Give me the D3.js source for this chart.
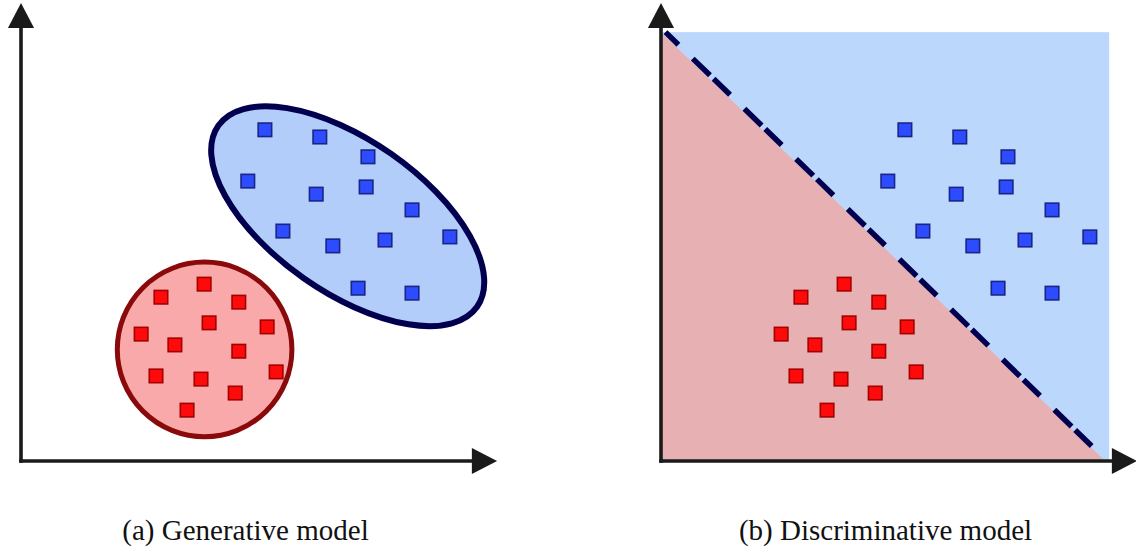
<!DOCTYPE html>
<html>
<head>
<meta charset="utf-8">
<script src="https://cdn.jsdelivr.net/npm/d3@7"></script>
<style>
  html, body { margin: 0; padding: 0; background: #fff; }
  svg { display: block; }
</style>
</head>
<body>
<svg id="chart" width="1136" height="554"></svg>
<script>
// Feature-space samples (both panels share the same data, units 0–100)
const classBlue = [
  [54.2, 73.6], [66.4, 72.0], [77.1, 67.6], [50.4, 62.2], [65.6, 59.3],
  [76.7, 60.9], [86.9, 55.8], [58.2, 51.1], [69.3, 47.8], [80.9, 49.1],
  [95.3, 49.8], [74.9, 38.4], [86.9, 37.3]
];
const classRed = [
  [40.7, 39.3], [31.1, 36.4], [48.4, 35.3], [41.8, 30.7], [54.7, 29.8],
  [26.7, 28.2], [34.2, 25.8], [48.4, 24.4], [30.0, 18.9], [40.0, 18.2],
  [56.7, 19.8], [47.6, 15.1], [36.9, 11.3]
];

// Generative model: fitted class densities (center x, center y, radii, tilt in degrees)
const redDensity  = { cx: 40.8, cy: 24.8, rx: 19.4, ry: 19.4, angle: 0 };
const blueDensity = { cx: 72.6, cy: 54.4, rx: 35.1, ry: 16.9, angle: 35 };

// Discriminative model: decision regions and boundary
const regionTop = 95.3;
const regionRight = 99.6;
const redRegion = [[0, regionTop], [0, 0], [98.7, 0]];
const boundary = [[1.0, 95.3], [97.3, 1.8]];

// Axis extents
const axisX = { lineEnd: 100.6, arrowBase: 100.2, tip: 105.8, halfWidth: 2.9 };
const axisY = { lineEnd: 96.6, arrowBase: 96.2, tip: 101.8, halfWidth: 2.9 };

const captions = ["(a) Generative model", "(b) Discriminative model"];

const panels = [
  { origin: [21, 461], kind: "generative", caption: captions[0] },
  { origin: [661, 461], kind: "discriminative", caption: captions[1] }
];

const x = d3.scaleLinear().domain([0, 100]).range([0, 450]);
const y = d3.scaleLinear().domain([0, 100]).range([0, -450]);

const svg = d3.select("#chart");
const line = d3.line().x(d => x(d[0])).y(d => y(d[1]));

const colors = {
  blueFill: "#2d4cff", blueStroke: "#1b2585",
  redFill: "#ff0a0a", redStroke: "#a30000",
  ellipseFill: "#b3cdfa", ellipseStroke: "#00004f",
  circleFill: "#f9a9a9", circleStroke: "#8a0a0c",
  regionBlue: "#bcd7fc", regionRed: "#e7b0b2",
  axis: "#1a1a1a", boundary: "#00004f"
};

panels.forEach(p => {
  const g = svg.append("g").attr("transform", `translate(${p.origin[0]},${p.origin[1]})`);

  if (p.kind === "discriminative") {
    g.append("rect")
      .attr("x", x(0)).attr("y", y(regionTop))
      .attr("width", x(regionRight) - x(0))
      .attr("height", y(0) - y(regionTop))
      .attr("fill", colors.regionBlue);
    g.append("path")
      .attr("d", line(redRegion) + "Z")
      .attr("fill", colors.regionRed);
    g.append("path")
      .attr("d", line(boundary))
      .attr("fill", "none")
      .attr("stroke", colors.boundary)
      .attr("stroke-width", 5.5)
      .attr("stroke-dasharray", "24,5,23,20")
      .attr("stroke-dashoffset", 34);
  } else {
    [redDensity, blueDensity].forEach((d, i) => {
      g.append("ellipse")
        .attr("transform", `translate(${x(d.cx)},${y(d.cy)}) rotate(${d.angle})`)
        .attr("rx", x(d.rx) - x(0))
        .attr("ry", x(d.ry) - x(0))
        .attr("fill", i === 0 ? colors.circleFill : colors.ellipseFill)
        .attr("stroke", i === 0 ? colors.circleStroke : colors.ellipseStroke)
        .attr("stroke-width", i === 0 ? 5 : 6);
    });
  }

  const side = 13.5;
  const drawPoints = (data, fill, stroke) => {
    g.selectAll(null).data(data).enter().append("rect")
      .attr("x", d => x(d[0]) - side / 2)
      .attr("y", d => y(d[1]) - side / 2)
      .attr("width", side).attr("height", side)
      .attr("fill", fill)
      .attr("stroke", stroke)
      .attr("stroke-width", 1.6);
  };
  drawPoints(classBlue, colors.blueFill, colors.blueStroke);
  drawPoints(classRed, colors.redFill, colors.redStroke);

  // Axes with arrowheads
  g.append("line")
    .attr("x1", x(0)).attr("y1", y(-0.4))
    .attr("x2", x(0)).attr("y2", y(axisY.lineEnd))
    .attr("stroke", colors.axis).attr("stroke-width", 3.6);
  g.append("line")
    .attr("x1", x(-0.4)).attr("y1", y(0))
    .attr("x2", x(axisX.lineEnd)).attr("y2", y(0))
    .attr("stroke", colors.axis).attr("stroke-width", 3.6);
  g.append("path")
    .attr("d", line([[-axisY.halfWidth, axisY.arrowBase], [0, axisY.tip], [axisY.halfWidth, axisY.arrowBase]]) + "Z")
    .attr("fill", colors.axis);
  g.append("path")
    .attr("d", line([[axisX.arrowBase, axisX.halfWidth], [axisX.tip, 0], [axisX.arrowBase, -axisX.halfWidth]]) + "Z")
    .attr("fill", colors.axis);

  svg.append("text")
    .attr("x", p.origin[0] + x(50) - 0.5)
    .attr("y", 540)
    .attr("text-anchor", "middle")
    .attr("font-family", "'Liberation Serif', 'Times New Roman', serif")
    .attr("font-size", 29)
    .attr("fill", "#111")
    .text(p.caption);
});
</script>
</body>
</html>
